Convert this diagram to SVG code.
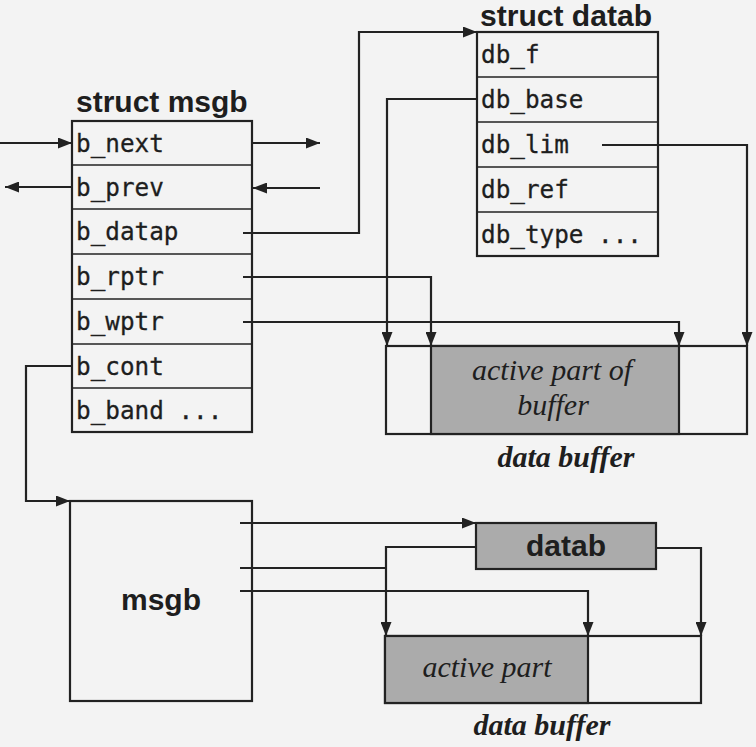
<svg xmlns="http://www.w3.org/2000/svg" width="756" height="747" viewBox="0 0 756 747">
<style>
.box{fill:none;stroke:#222;stroke-width:2.2}
.gray{fill:#ababab;stroke:#222;stroke-width:2.2}
.div{stroke:#222;stroke-width:1.6}
.mono{font-family:"DejaVu Sans Mono","Liberation Mono",monospace;font-size:24.3px;fill:#1e1e1e;stroke:#1e1e1e;stroke-width:0.3}
.title{font-family:"Liberation Sans",Arial,sans-serif;font-weight:bold;font-size:30px;fill:#1e1e1e}
.ital{font-family:"Liberation Serif","Times New Roman",serif;font-style:italic;font-size:30px;fill:#1e1e1e;text-anchor:middle}
.bital{font-family:"Liberation Serif","Times New Roman",serif;font-style:italic;font-weight:bold;font-size:30px;fill:#1e1e1e;text-anchor:middle}
.c{fill:none;stroke:#222;stroke-width:2.2}
</style>
<defs>
<marker id="ah" markerWidth="14" markerHeight="11" refX="14" refY="5.5" orient="auto" markerUnits="userSpaceOnUse">
<path d="M0,0 L14,5.5 L0,11 z" fill="#222"/>
</marker>
</defs>
<rect x="0" y="0" width="756" height="747" fill="#f3f3f3"/>

<g id="struct-msgb">
<text class="title" x="76" y="112">struct msgb</text>
<rect class="box" x="72" y="121" width="180" height="311"/>
<line class="div" x1="72" y1="165" x2="252" y2="165"/>
<line class="div" x1="72" y1="209" x2="252" y2="209"/>
<line class="div" x1="72" y1="254" x2="252" y2="254"/>
<line class="div" x1="72" y1="299" x2="252" y2="299"/>
<line class="div" x1="72" y1="344" x2="252" y2="344"/>
<line class="div" x1="72" y1="388" x2="252" y2="388"/>
<text class="mono" x="76" y="152">b_next</text>
<text class="mono" x="76" y="196">b_prev</text>
<text class="mono" x="76" y="240">b_datap</text>
<text class="mono" x="76" y="285">b_rptr</text>
<text class="mono" x="76" y="330">b_wptr</text>
<text class="mono" x="76" y="375">b_cont</text>
<text class="mono" x="76" y="419">b_band ...</text>
</g>

<g id="struct-datab">
<text class="title" x="480" y="26" font-size="29" textLength="172" lengthAdjust="spacingAndGlyphs">struct datab</text>
<rect class="box" x="477" y="32" width="181" height="224"/>
<line class="div" x1="477" y1="77" x2="658" y2="77"/>
<line class="div" x1="477" y1="122" x2="658" y2="122"/>
<line class="div" x1="477" y1="167" x2="658" y2="167"/>
<line class="div" x1="477" y1="212" x2="658" y2="212"/>
<text class="mono" x="481" y="63">db_f</text>
<text class="mono" x="481" y="108">db_base</text>
<text class="mono" x="481" y="153">db_lim</text>
<text class="mono" x="481" y="198">db_ref</text>
<text class="mono" x="481" y="243">db_type ...</text>
</g>

<g id="data-buffer-1">
<rect class="box" x="386" y="346" width="361" height="88"/>
<rect class="gray" x="431" y="346" width="248" height="88"/>
<text class="ital" x="552" y="380">active part of</text>
<text class="ital" x="553" y="415">buffer</text>
<text class="bital" x="566" y="467">data buffer</text>
</g>

<g id="msgb">
<rect class="box" x="70" y="501" width="182" height="200"/>
<text class="title" x="161" y="610" text-anchor="middle">msgb</text>
</g>

<g id="datab">
<rect class="gray" x="476" y="523" width="180" height="46"/>
<text class="title" x="566" y="556" text-anchor="middle">datab</text>
</g>

<g id="data-buffer-2">
<rect class="box" x="385" y="636" width="316" height="67"/>
<rect class="gray" x="385" y="636" width="203" height="67"/>
<text class="ital" x="487" y="677">active part</text>
<text class="bital" x="542" y="735">data buffer</text>
</g>

<g id="connectors">
<path class="c" d="M0,143 L72,143" marker-end="url(#ah)"/>
<path class="c" d="M72,187 L5,187" marker-end="url(#ah)"/>
<path class="c" d="M252,143 L320,143" marker-end="url(#ah)"/>
<path class="c" d="M320,188 L253,188" marker-end="url(#ah)"/>
<path class="c" d="M243,233 L359,233 L359,32 L477,32" marker-end="url(#ah)"/>
<path class="c" d="M477,99 L387,99 L387,346" marker-end="url(#ah)"/>
<path class="c" d="M243,277 L431,277 L431,346" marker-end="url(#ah)"/>
<path class="c" d="M243,322 L679,322 L679,346" marker-end="url(#ah)"/>
<path class="c" d="M602,145 L747,145 L747,346" marker-end="url(#ah)"/>
<path class="c" d="M72,366 L26,366 L26,501 L70,501" marker-end="url(#ah)"/>
<path class="c" d="M240,523 L476,523" marker-end="url(#ah)"/>
<path class="c" d="M240,568 L386,568"/>
<path class="c" d="M476,547 L386,547 L386,636" marker-end="url(#ah)"/>
<path class="c" d="M240,591 L588,591 L588,636" marker-end="url(#ah)"/>
<path class="c" d="M656,548 L701,548 L701,636" marker-end="url(#ah)"/>
</g>
</svg>
